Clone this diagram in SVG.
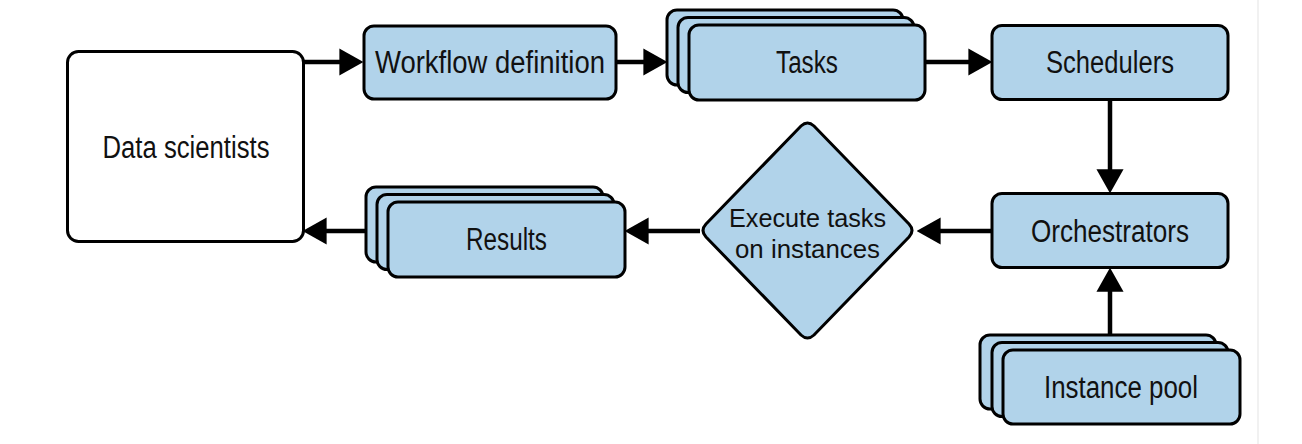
<svg xmlns="http://www.w3.org/2000/svg" width="1302" height="444" viewBox="0 0 1302 444">
<style>
.box{fill:#b1d3ea;stroke:#000;stroke-width:3}
.plain{fill:#fff;stroke:#000;stroke-width:3}
.lbl{font-family:"Liberation Sans",Arial,sans-serif;font-size:31px;fill:#111;text-anchor:middle}
.dl{font-size:26.5px}
.conn{stroke:#000;stroke-width:4.5;fill:none}
</style>
<defs>
<marker id="ah" markerUnits="userSpaceOnUse" markerWidth="24" markerHeight="28" viewBox="0 0 23 26" refX="15" refY="13" orient="auto">
<path d="M0,0 L23,13 L0,26 z" fill="#000"/>
</marker>
</defs>
<line x1="1258" y1="0" x2="1258" y2="444" stroke="#ececec" stroke-width="1.5"/>
<g id="connectors">
<path class="conn" d="M304,62 L355,62" marker-end="url(#ah)"/>
<path class="conn" d="M617,62 L659,62" marker-end="url(#ah)"/>
<path class="conn" d="M926,62 L984,62" marker-end="url(#ah)"/>
<path class="conn" d="M1110,100 L1110,185" marker-end="url(#ah)"/>
<path class="conn" d="M992,231 L925,231" marker-end="url(#ah)"/>
<path class="conn" d="M700,231 L633,231" marker-end="url(#ah)"/>
<path class="conn" d="M366,231 L311,231" marker-end="url(#ah)"/>
<path class="conn" d="M1110,335 L1110,276" marker-end="url(#ah)"/>
</g>
<g id="data-scientists">
<rect class="plain" x="67.5" y="51.5" width="236" height="190" rx="11"/>
<text class="lbl" x="186" y="157.5" textLength="167" lengthAdjust="spacingAndGlyphs">Data scientists</text>
</g>
<g id="workflow-definition">
<rect class="box" x="364" y="26" width="252" height="73" rx="10"/>
<text class="lbl" x="490" y="73" textLength="230" lengthAdjust="spacingAndGlyphs">Workflow definition</text>
</g>
<g id="tasks">
<rect class="box" x="667" y="10" width="236" height="75" rx="10"/>
<rect class="box" x="678" y="17.5" width="236" height="75" rx="10"/>
<rect class="box" x="689" y="25" width="236" height="75" rx="10"/>
<text class="lbl" x="807" y="73" textLength="62" lengthAdjust="spacingAndGlyphs">Tasks</text>
</g>
<g id="schedulers">
<rect class="box" x="992" y="25.5" width="236" height="74" rx="10"/>
<text class="lbl" x="1110" y="73" textLength="128" lengthAdjust="spacingAndGlyphs">Schedulers</text>
</g>
<g id="orchestrators">
<rect class="box" x="992" y="193.5" width="236" height="74" rx="10"/>
<text class="lbl" x="1110" y="241.5" textLength="158" lengthAdjust="spacingAndGlyphs">Orchestrators</text>
</g>
<g id="execute-tasks">
<path class="box" d="M801,126 Q807.5,120 814,126 L909,224 Q915,230.5 909,237 L814,335 Q807.5,341 801,335 L706,237 Q700,230.5 706,224 Z"/>
<text class="lbl dl" x="807.5" y="227" textLength="157" lengthAdjust="spacingAndGlyphs">Execute tasks</text>
<text class="lbl dl" x="807.5" y="258" textLength="145" lengthAdjust="spacingAndGlyphs">on instances</text>
</g>
<g id="results">
<rect class="box" x="366" y="187" width="237" height="75" rx="10"/>
<rect class="box" x="377" y="194.5" width="237" height="75" rx="10"/>
<rect class="box" x="388" y="202" width="237" height="75" rx="10"/>
<text class="lbl" x="506.5" y="250" textLength="81" lengthAdjust="spacingAndGlyphs">Results</text>
</g>
<g id="instance-pool">
<rect class="box" x="980" y="335" width="236" height="74" rx="10"/>
<rect class="box" x="992" y="342.5" width="236" height="74" rx="10"/>
<rect class="box" x="1003" y="350" width="237" height="74" rx="10"/>
<text class="lbl" x="1121" y="397.5" textLength="154" lengthAdjust="spacingAndGlyphs">Instance pool</text>
</g>
</svg>
